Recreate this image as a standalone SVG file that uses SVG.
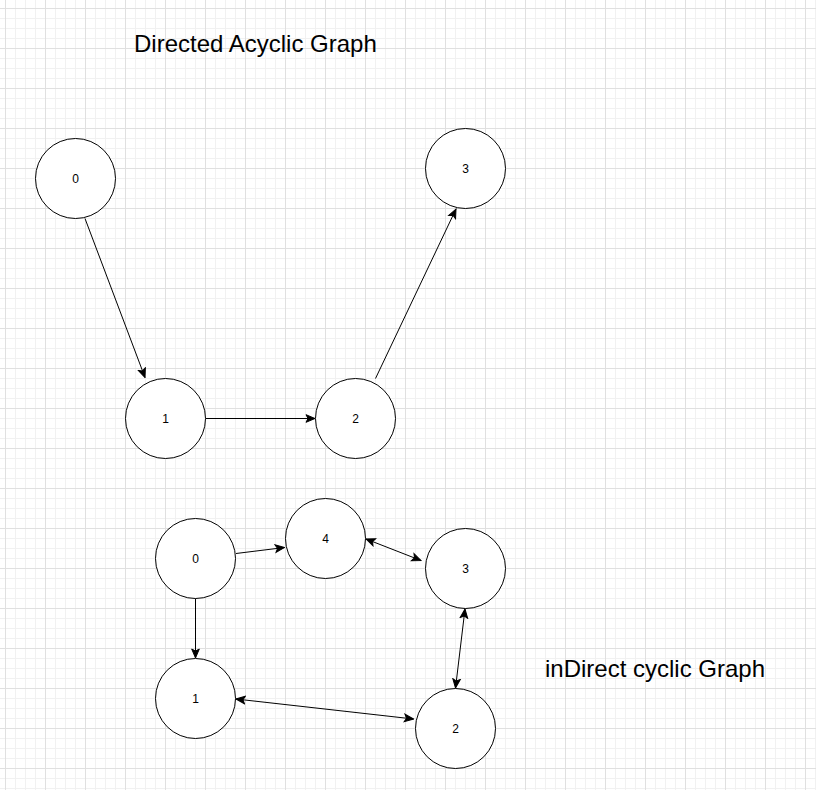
<svg xmlns="http://www.w3.org/2000/svg" width="816" height="790" viewBox="0 0 816 790">
  <style>
    .node circle { fill: #ffffff; stroke: #000000; stroke-width: 1; }
    .node text { font-family: "Liberation Sans", Arial, sans-serif; font-size: 12px; fill: #000000; text-anchor: middle; }
    .title { font-family: "Liberation Sans", Arial, sans-serif; font-size: 24px; fill: #000000; }
    .edge { stroke: #000000; stroke-width: 1; fill: none; }
    .one { marker-end: url(#arrow); }
    .two { marker-start: url(#arrow); marker-end: url(#arrow); }
  </style>
  <defs>
    <pattern id="grid" x="5" y="8" width="40" height="40" patternUnits="userSpaceOnUse">
      <path d="M10.5 0V40M20.5 0V40M30.5 0V40M0 10.5H40M0 20.5H40M0 30.5H40" stroke="#f1f1f1" stroke-width="1" fill="none"/>
      <path d="M0.5 0V40M0 0.5H40" stroke="#e0e0e0" stroke-width="1" fill="none"/>
    </pattern>
    <marker id="arrow" viewBox="-10 -5 11 10" refX="0" refY="0" markerWidth="11" markerHeight="10" markerUnits="userSpaceOnUse" orient="auto-start-reverse">
      <path d="M0 0 L-9 -3.8 L-7 0 L-9 3.8 Z" fill="#000000" stroke="#000000" stroke-width="1" stroke-linejoin="miter"/>
    </marker>
  </defs>
  <rect x="0" y="0" width="816" height="790" fill="#ffffff"/>
  <rect x="0" y="0" width="816" height="790" fill="url(#grid)"/>

  <text class="title" x="134" y="52">Directed Acyclic Graph</text>
  <text class="title" x="545" y="677">inDirect cyclic Graph</text>

  <g id="connectors">
    <line class="edge one" x1="85" y1="218.5" x2="145" y2="377.5"/>
    <line class="edge one" x1="205.5" y1="418.5" x2="315" y2="418.5"/>
    <line class="edge one" x1="375.5" y1="378.5" x2="456" y2="209"/>
    <line class="edge one" x1="236" y1="553.5" x2="284.5" y2="547.5"/>
    <line class="edge two" x1="366" y1="539" x2="421" y2="560.5"/>
    <line class="edge one" x1="195.5" y1="598.5" x2="195.5" y2="658"/>
    <line class="edge two" x1="465" y1="609" x2="455.5" y2="688"/>
    <line class="edge two" x1="236" y1="699" x2="413.5" y2="719"/>
  </g>

  <g id="dag-0" class="node"><circle cx="75.5" cy="178.5" r="40"/><text x="75.5" y="182.5">0</text></g>
  <g id="dag-1" class="node"><circle cx="165.5" cy="418.5" r="40"/><text x="165.5" y="422.5">1</text></g>
  <g id="dag-2" class="node"><circle cx="355.5" cy="418.5" r="40"/><text x="355.5" y="422.5">2</text></g>
  <g id="dag-3" class="node"><circle cx="465.5" cy="168.5" r="40"/><text x="465.5" y="172.5">3</text></g>

  <g id="cyc-0" class="node"><circle cx="195.5" cy="558.5" r="40"/><text x="195.5" y="562.5">0</text></g>
  <g id="cyc-4" class="node"><circle cx="325.5" cy="538.5" r="40"/><text x="325.5" y="542.5">4</text></g>
  <g id="cyc-3" class="node"><circle cx="465.5" cy="568.5" r="40"/><text x="465.5" y="572.5">3</text></g>
  <g id="cyc-1" class="node"><circle cx="195.5" cy="698.5" r="40"/><text x="195.5" y="702.5">1</text></g>
  <g id="cyc-2" class="node"><circle cx="455.5" cy="728.5" r="40"/><text x="455.5" y="732.5">2</text></g>
</svg>
